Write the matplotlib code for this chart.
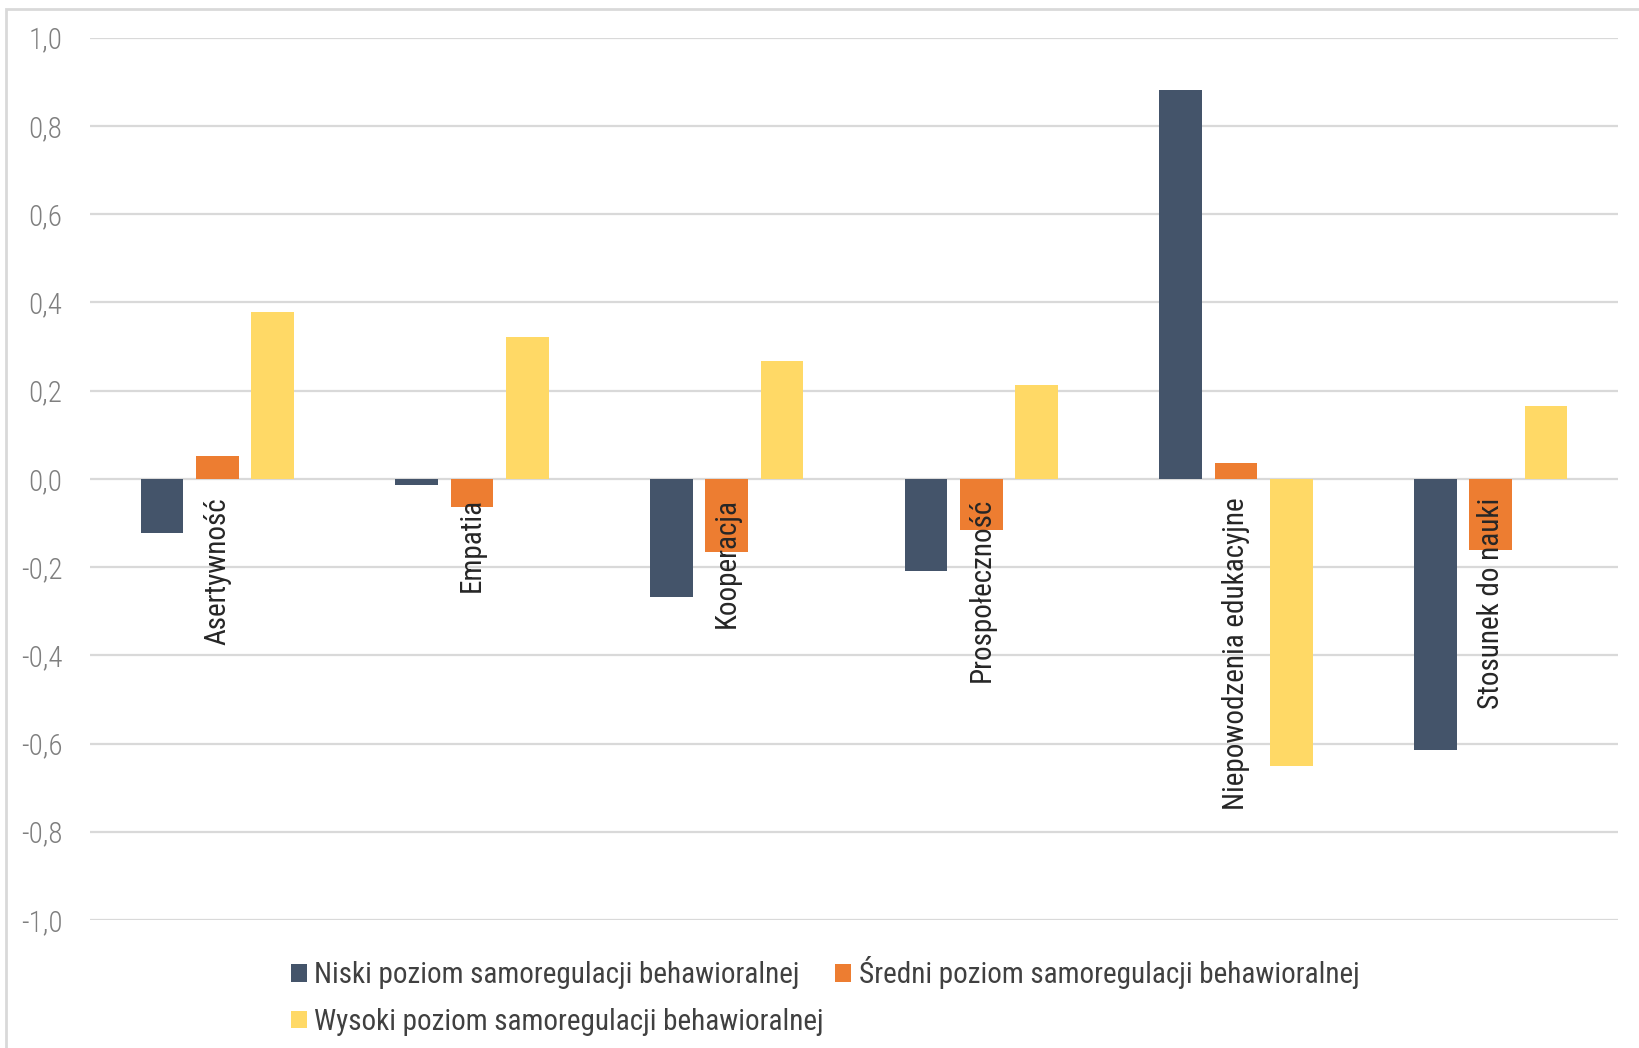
import matplotlib
matplotlib.use("Agg")
import matplotlib.pyplot as plt
from matplotlib import font_manager as fm
from matplotlib.patches import Rectangle
from matplotlib.transforms import offset_copy
import numpy as np

categories = ["Asertywność", "Empatia", "Kooperacja", "Prospołeczność",
              "Niepowodzenia edukacyjne", "Stosunek do nauki"]
series_names = ["Niski poziom samoregulacji behawioralnej",
                "Średni poziom samoregulacji behawioralnej",
                "Wysoki poziom samoregulacji behawioralnej"]
niski = [-0.123, -0.014, -0.268, -0.209, 0.882, -0.614]
sredni = [0.052, -0.064, -0.166, -0.116, 0.036, -0.161]
wysoki = [0.377, 0.322, 0.268, 0.213, -0.652, 0.164]
yticks = [-1.0, -0.8, -0.6, -0.4, -0.2, 0.0, 0.2, 0.4, 0.6, 0.8, 1.0]
colors = ["#44546A", "#ED7D31", "#FFD966"]

names = {f.name for f in fm.fontManager.ttflist}
family = "Roboto"
for cand in ["Roboto Condensed", "Liberation Sans Narrow", "Roboto"]:
    if cand in names:
        family = cand
        break
plt.rcParams["font.family"] = [family, "DejaVu Sans"]

W, H = 1640, 1048
fig = plt.figure(figsize=(W / 100, H / 100), dpi=100)
fig.patch.set_facecolor("white")

# outer frame (only top and left visible)
fig.patches.append(Rectangle((6 / W, -0.2), 1.5, 1.2 - 9 / H,
                             transform=fig.transFigure, fill=False,
                             edgecolor="#d9d9d9", linewidth=2))

left, right = 90 / W, 1618 / W
top, bottom = 1 - 37.6 / H, 1 - 920 / H
ax = fig.add_axes([left, bottom, right - left, top - bottom])

x = np.arange(len(categories))
w = 0.168
step = 0.2175
for i, (vals, c, nm) in enumerate(zip([niski, sredni, wysoki], colors, series_names)):
    ax.bar(x + (i - 1) * step, vals, width=w, color=c, label=nm, zorder=3)

ax.set_xlim(-0.5, len(categories) - 0.5)
ax.set_ylim(-1.0, 1.0)
ax.set_yticks(yticks)
ax.set_yticklabels([f"{v:.1f}".replace(".", ",") for v in yticks])
ax.grid(axis="y", color="#d9d9d9", linewidth=1.6, zorder=0)
ax.tick_params(axis="y", length=0, pad=20, labelsize=21, labelcolor="#7f7f7f")
for lbl in ax.get_yticklabels():
    lbl.set_fontweight("light")
for s in ax.spines.values():
    s.set_visible(False)
ax.set_xticks([])

trans = offset_copy(ax.transData, fig=fig, x=0, y=-19, units="dots")
for xi, cat in zip(x, categories):
    ax.text(xi, 0, cat, rotation=90, ha="center", va="top", fontsize=21,
            color="#262626", transform=trans, zorder=5)

handles, labels = ax.get_legend_handles_labels()
order = [0, 2, 1]
leg = fig.legend([handles[i] for i in order], [labels[i] for i in order],
                 ncol=2, loc="center", bbox_to_anchor=(0.503, 0.0496),
                 frameon=False, fontsize=21, handlelength=0.55, handleheight=0.55,
                 handletextpad=0.25, columnspacing=0.4, labelspacing=0.65,
                 labelcolor="#404040")

fig.savefig("out.png", dpi=100, facecolor="white")
